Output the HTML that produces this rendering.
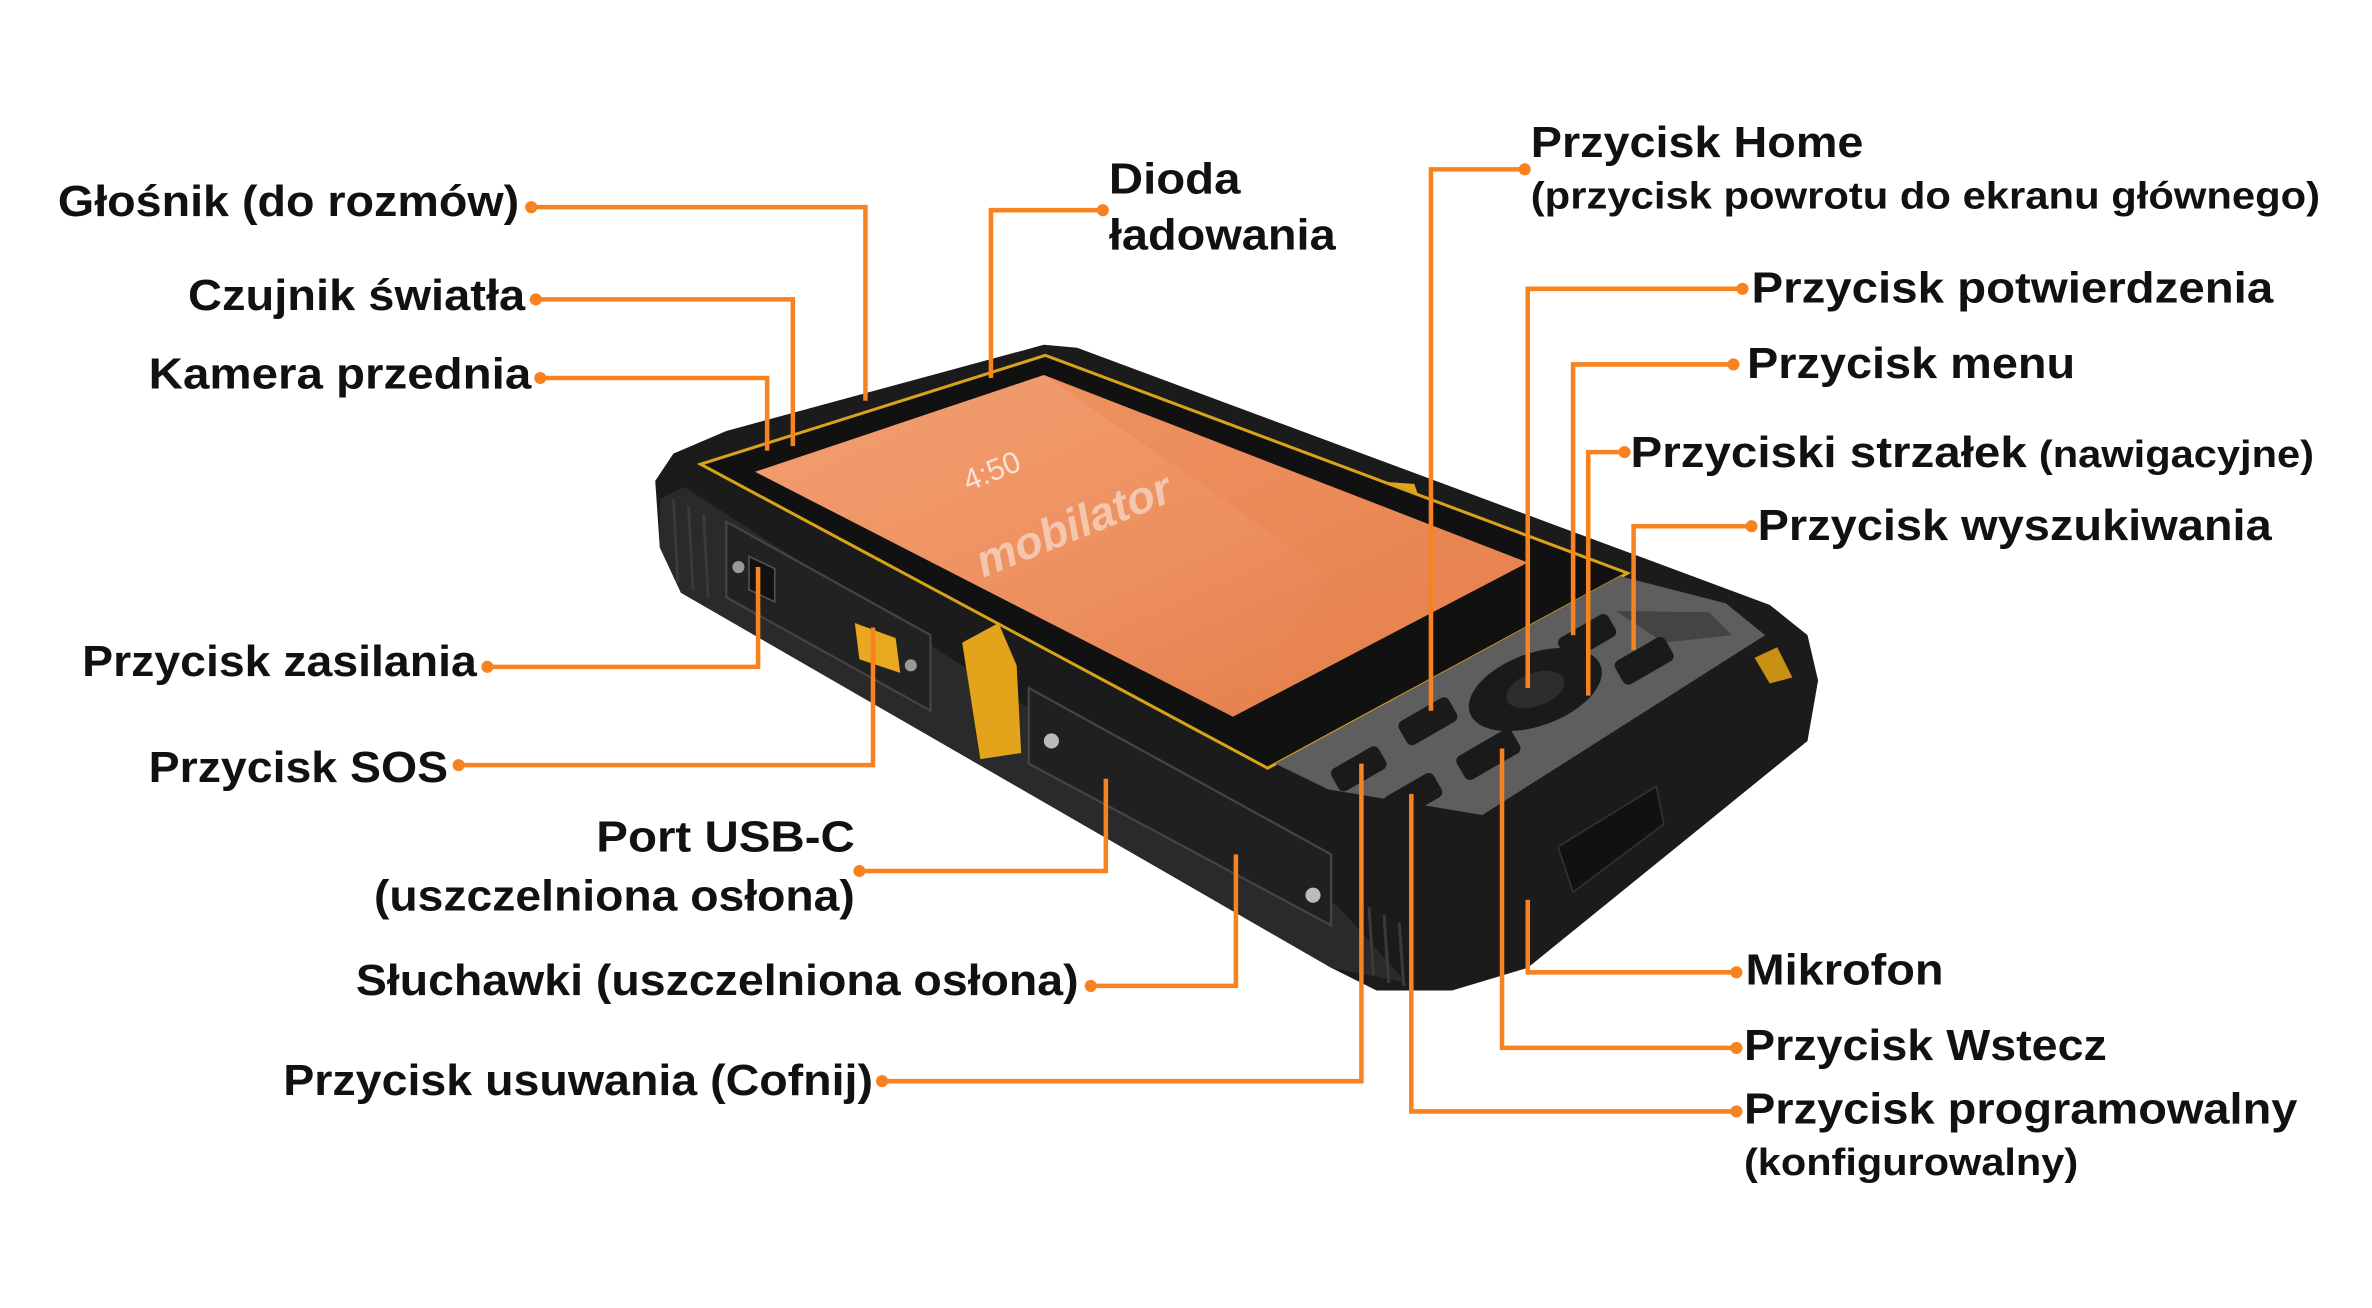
<!DOCTYPE html>
<html><head><meta charset="utf-8"><style>
html,body{margin:0;padding:0;background:#fff;}
svg{display:block;}
text{font-family:"Liberation Sans",sans-serif;font-weight:bold;fill:#111;}
</style></head><body>
<svg width="2372" height="1308" viewBox="0 0 1568 865" xmlns="http://www.w3.org/2000/svg">
<defs>
<linearGradient id="scr" x1="0" y1="0" x2="1" y2="1">
<stop offset="0" stop-color="#f2a072"/><stop offset="0.5" stop-color="#ee9060"/><stop offset="1" stop-color="#e07a45"/>
</linearGradient>
</defs>
<polygon points="433,318 445,300 480,285 690,228 712,230 1170,400 1195,420 1202,450 1195,490 1010,640 960,655 910,655 880,640 450,392 436,362" fill="#1b1b1b"/>
<polygon points="436,330 452,322 885,600 930,650 880,640 450,392 436,362" fill="#2a2a2a"/>
<g stroke="#3a3a3a" stroke-width="2">
<line x1="445" y1="330" x2="448" y2="385"/><line x1="455" y1="335" x2="458" y2="390"/><line x1="465" y1="340" x2="468" y2="395"/>
<line x1="905" y1="600" x2="908" y2="645"/><line x1="915" y1="605" x2="918" y2="650"/><line x1="925" y1="610" x2="928" y2="652"/>
</g>
<polygon points="480,345 615,420 615,470 480,395" fill="#222" stroke="#444" stroke-width="1.5"/>
<polygon points="495,368 512,376 512,398 495,390" fill="#111" stroke="#555"/>
<polygon points="565,412 592,422 595,445 568,436" fill="#e8a820"/>
<polygon points="680,455 880,565 880,612 680,505" fill="#202020" stroke="#444" stroke-width="1.5"/>
<circle cx="695" cy="490" r="5" fill="#bbb"/><circle cx="868" cy="592" r="5" fill="#bbb"/>
<circle cx="488" cy="375" r="4" fill="#999"/><circle cx="602" cy="440" r="4" fill="#999"/>
<polygon points="636,425 660,412 672,440 675,498 648,502" fill="#e3a31b"/>
<polygon points="905,318 935,320 940,335 910,332" fill="#e3a31b"/>
<polygon points="1160,435 1175,428 1185,448 1170,452" fill="#c99016"/>
<polygon points="463,307 691,235 1076,379 838,508" fill="#111" stroke="#d9a21b" stroke-width="2"/>
<polygon points="499,312 690,248 1010,372 815,474" fill="url(#scr)"/>
<polygon points="690,248 1010,372 815,474 880,380" fill="#e8854c" opacity="0.35"/>
<text x="0" y="0" transform="translate(640,325) rotate(-22)" style="font-size:20px;fill:#fbe2d2;font-weight:normal">4:50</text>
<text x="0" y="0" transform="translate(650,382) rotate(-22)" style="font-size:30px;fill:#f6d0bb;opacity:0.85;font-style:italic">mobilator</text>
<polygon points="843,505 1071,381 1141,399 1167,420 980,539 878,522" fill="#5e5e5e"/>
<polygon points="1068,404 1130,405 1145,420 1100,425" fill="#444"/>
<ellipse cx="1015" cy="456" rx="46" ry="24" fill="#1a1a1a" transform="rotate(-20 1015 456)"/>
<ellipse cx="1015" cy="456" rx="20" ry="11" fill="#2d2d2d" transform="rotate(-20 1015 456)"/>
<g fill="#1a1a1a">
<rect x="925" y="468" width="38" height="18" rx="4" transform="rotate(-30 944 477)"/>
<rect x="963" y="490" width="42" height="18" rx="4" transform="rotate(-30 984 499)"/>
<rect x="880" y="500" width="36" height="17" rx="4" transform="rotate(-30 898 508)"/>
<rect x="915" y="518" width="38" height="18" rx="4" transform="rotate(-30 934 527)"/>
<rect x="1030" y="413" width="38" height="17" rx="4" transform="rotate(-30 1049 421)"/>
<rect x="1068" y="428" width="38" height="18" rx="4" transform="rotate(-30 1087 437)"/>
</g>
<polygon points="1030,560 1095,520 1100,545 1040,590" fill="#111" stroke="#333"/>
<g fill="none" stroke="#f7821f" stroke-width="3">
<polyline points="351,137 572,137 572,265"/>
<polyline points="354,198 524,198 524,295"/>
<polyline points="357,250 507,250 507,298"/>
<polyline points="729,139 655,139 655,250"/>
<polyline points="1008,112 946,112 946,470"/>
<polyline points="1152,191 1010,191 1010,455"/>
<polyline points="1146,241 1040,241 1040,420"/>
<polyline points="1074,299 1050,299 1050,460"/>
<polyline points="1158,348 1080,348 1080,430"/>
<polyline points="322,441 501,441 501,375"/>
<polyline points="303,506 577,506 577,415"/>
<polyline points="568,576 731,576 731,515"/>
<polyline points="721,652 817,652 817,565"/>
<polyline points="583,715 900,715 900,505"/>
<polyline points="1148,643 1010,643 1010,595"/>
<polyline points="1148,693 993,693 993,495"/>
<polyline points="1148,735 933,735 933,525"/>
</g>
<g fill="#f7821f">
<circle cx="351" cy="137" r="4"/><circle cx="354" cy="198" r="4"/><circle cx="357" cy="250" r="4"/>
<circle cx="729" cy="139" r="4"/><circle cx="1008" cy="112" r="4"/><circle cx="1152" cy="191" r="4"/>
<circle cx="1146" cy="241" r="4"/><circle cx="1074" cy="299" r="4"/><circle cx="1158" cy="348" r="4"/>
<circle cx="322" cy="441" r="4"/><circle cx="303" cy="506" r="4"/><circle cx="568" cy="576" r="4"/>
<circle cx="721" cy="652" r="4"/><circle cx="583" cy="715" r="4"/><circle cx="1148" cy="643" r="4"/>
<circle cx="1148" cy="693" r="4"/><circle cx="1148" cy="735" r="4"/>
</g>
<g style="font-size:29px">
<text x="38" y="143" textLength="305" lengthAdjust="spacingAndGlyphs">Głośnik (do rozmów)</text>
<text x="124" y="205" textLength="223" lengthAdjust="spacingAndGlyphs">Czujnik światła</text>
<text x="98" y="257" textLength="253" lengthAdjust="spacingAndGlyphs">Kamera przednia</text>
<text x="733" y="128" textLength="87" lengthAdjust="spacingAndGlyphs">Dioda</text>
<text x="733" y="165" textLength="150" lengthAdjust="spacingAndGlyphs">ładowania</text>
<text x="1012" y="104" textLength="220" lengthAdjust="spacingAndGlyphs">Przycisk Home</text>
<text x="1012" y="138" style="font-size:25px" textLength="522" lengthAdjust="spacingAndGlyphs">(przycisk powrotu do ekranu głównego)</text>
<text x="1158" y="200" textLength="345" lengthAdjust="spacingAndGlyphs">Przycisk potwierdzenia</text>
<text x="1155" y="250" textLength="217" lengthAdjust="spacingAndGlyphs">Przycisk menu</text>
<text x="1078" y="309" textLength="262" lengthAdjust="spacingAndGlyphs">Przyciski strzałek</text>
<text x="1348" y="309" style="font-size:25px" textLength="182" lengthAdjust="spacingAndGlyphs">(nawigacyjne)</text>
<text x="1162" y="357" textLength="340" lengthAdjust="spacingAndGlyphs">Przycisk wyszukiwania</text>
<text x="54" y="447" textLength="261" lengthAdjust="spacingAndGlyphs">Przycisk zasilania</text>
<text x="98" y="517" textLength="198" lengthAdjust="spacingAndGlyphs">Przycisk SOS</text>
<text x="394" y="563" textLength="171" lengthAdjust="spacingAndGlyphs">Port USB-C</text>
<text x="247" y="602" textLength="318" lengthAdjust="spacingAndGlyphs">(uszczelniona osłona)</text>
<text x="235" y="658" textLength="478" lengthAdjust="spacingAndGlyphs">Słuchawki (uszczelniona osłona)</text>
<text x="187" y="724" textLength="390" lengthAdjust="spacingAndGlyphs">Przycisk usuwania (Cofnij)</text>
<text x="1154" y="651" textLength="131" lengthAdjust="spacingAndGlyphs">Mikrofon</text>
<text x="1153" y="701" textLength="240" lengthAdjust="spacingAndGlyphs">Przycisk Wstecz</text>
<text x="1153" y="743" textLength="366" lengthAdjust="spacingAndGlyphs">Przycisk programowalny</text>
<text x="1153" y="777" style="font-size:25px" textLength="221" lengthAdjust="spacingAndGlyphs">(konfigurowalny)</text>
</g>
</svg>
</body></html>
